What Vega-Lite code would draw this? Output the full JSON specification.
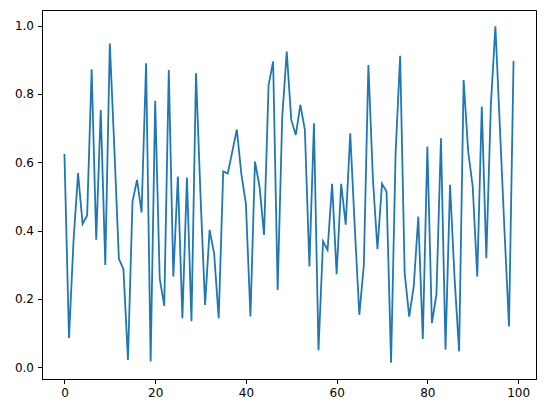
{
  "$schema": "https://vega.github.io/schema/vega-lite/v6.json",
  "width": 494,
  "height": 369,
  "autosize": {"type": "none"},
  "padding": {"left": 42, "top": 10, "right": 11, "bottom": 34},
  "background": "white",
  "data": {
    "values": [
      {"x": 0, "y": 0.624}, {"x": 1, "y": 0.085}, {"x": 2, "y": 0.37}, {"x": 3, "y": 0.568},
      {"x": 4, "y": 0.419}, {"x": 5, "y": 0.444}, {"x": 6, "y": 0.872}, {"x": 7, "y": 0.373},
      {"x": 8, "y": 0.753}, {"x": 9, "y": 0.299}, {"x": 10, "y": 0.948}, {"x": 11, "y": 0.64},
      {"x": 12, "y": 0.317}, {"x": 13, "y": 0.287}, {"x": 14, "y": 0.021}, {"x": 15, "y": 0.485},
      {"x": 16, "y": 0.548}, {"x": 17, "y": 0.453}, {"x": 18, "y": 0.89}, {"x": 19, "y": 0.016},
      {"x": 20, "y": 0.78}, {"x": 21, "y": 0.26}, {"x": 22, "y": 0.179}, {"x": 23, "y": 0.87},
      {"x": 24, "y": 0.265}, {"x": 25, "y": 0.558}, {"x": 26, "y": 0.143}, {"x": 27, "y": 0.555},
      {"x": 28, "y": 0.134}, {"x": 29, "y": 0.861}, {"x": 30, "y": 0.5}, {"x": 31, "y": 0.182},
      {"x": 32, "y": 0.402}, {"x": 33, "y": 0.332}, {"x": 34, "y": 0.143}, {"x": 35, "y": 0.573},
      {"x": 36, "y": 0.567}, {"x": 37, "y": 0.631}, {"x": 38, "y": 0.696}, {"x": 39, "y": 0.565},
      {"x": 40, "y": 0.479}, {"x": 41, "y": 0.148}, {"x": 42, "y": 0.602}, {"x": 43, "y": 0.529},
      {"x": 44, "y": 0.387}, {"x": 45, "y": 0.826}, {"x": 46, "y": 0.895}, {"x": 47, "y": 0.226},
      {"x": 48, "y": 0.73}, {"x": 49, "y": 0.924}, {"x": 50, "y": 0.724}, {"x": 51, "y": 0.68},
      {"x": 52, "y": 0.768}, {"x": 53, "y": 0.695}, {"x": 54, "y": 0.295}, {"x": 55, "y": 0.714},
      {"x": 56, "y": 0.049}, {"x": 57, "y": 0.368}, {"x": 58, "y": 0.343}, {"x": 59, "y": 0.537},
      {"x": 60, "y": 0.272}, {"x": 61, "y": 0.537}, {"x": 62, "y": 0.417}, {"x": 63, "y": 0.685},
      {"x": 64, "y": 0.41}, {"x": 65, "y": 0.153}, {"x": 66, "y": 0.299}, {"x": 67, "y": 0.885},
      {"x": 68, "y": 0.55}, {"x": 69, "y": 0.345}, {"x": 70, "y": 0.537}, {"x": 71, "y": 0.514},
      {"x": 72, "y": 0.013}, {"x": 73, "y": 0.626}, {"x": 74, "y": 0.912}, {"x": 75, "y": 0.275},
      {"x": 76, "y": 0.148}, {"x": 77, "y": 0.236}, {"x": 78, "y": 0.441}, {"x": 79, "y": 0.082},
      {"x": 80, "y": 0.646}, {"x": 81, "y": 0.129}, {"x": 82, "y": 0.212}, {"x": 83, "y": 0.67},
      {"x": 84, "y": 0.051}, {"x": 85, "y": 0.534}, {"x": 86, "y": 0.26}, {"x": 87, "y": 0.046},
      {"x": 88, "y": 0.841}, {"x": 89, "y": 0.631}, {"x": 90, "y": 0.529}, {"x": 91, "y": 0.265},
      {"x": 92, "y": 0.763}, {"x": 93, "y": 0.319}, {"x": 94, "y": 0.768}, {"x": 95, "y": 0.998},
      {"x": 96, "y": 0.7}, {"x": 97, "y": 0.4}, {"x": 98, "y": 0.119}, {"x": 99, "y": 0.897}
    ]
  },
  "mark": {"type": "line", "color": "#1f77b4", "strokeWidth": 1.8, "clip": true},
  "encoding": {
    "x": {
      "field": "x",
      "type": "quantitative",
      "scale": {"domain": [-4.95, 103.95], "nice": false, "zero": false},
      "axis": {"values": [0, 20, 40, 60, 80, 100], "title": null, "grid": false}
    },
    "y": {
      "field": "y",
      "type": "quantitative",
      "scale": {"domain": [-0.035, 1.046], "nice": false, "zero": false},
      "axis": {"values": [0, 0.2, 0.4, 0.6, 0.8, 1.0], "format": ".1f", "title": null, "grid": false}
    }
  },
  "config": {
    "view": {"stroke": "black", "strokeWidth": 1},
    "axis": {
      "domainColor": "black",
      "domainWidth": 1,
      "tickColor": "black",
      "tickWidth": 1,
      "tickSize": 4.5,
      "labelPadding": 4,
      "labelColor": "black",
      "labelFont": "DejaVu Sans",
      "labelFontSize": 12
    }
  }
}
